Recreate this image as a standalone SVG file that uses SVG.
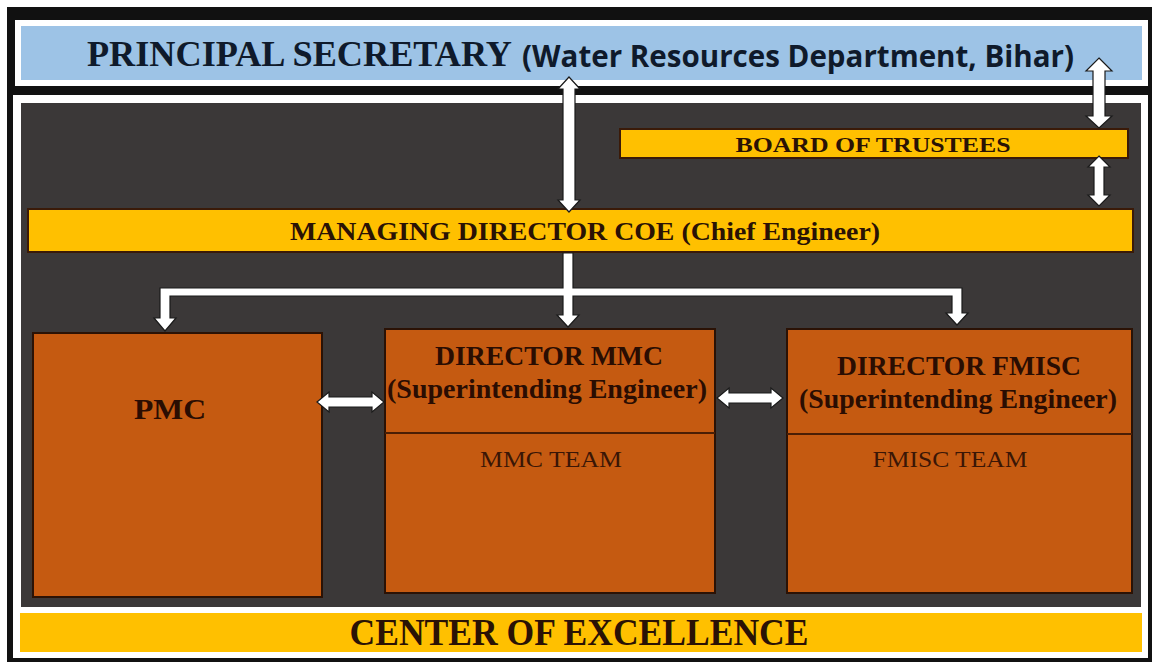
<svg xmlns="http://www.w3.org/2000/svg" width="1152" height="662" viewBox="0 0 1152 662">
  <style>
    .serif { font-family: "Liberation Serif", "Times New Roman", serif; }
    .sans { font-family: "Open Sans", "Noto Sans", "Liberation Sans", sans-serif; }
    .bold { font-weight: bold; }
    .bar { fill: #ffc000; stroke: #3a1a08; stroke-width: 2; }
    .box { fill: #c55a11; stroke: #2b1205; stroke-width: 2; }
    .divider { stroke: #4a1e05; stroke-width: 2; }
    .arrow { fill: #ffffff; stroke: #1a1a1a; stroke-width: 1.2; stroke-linejoin: miter; }
    .t-blue { fill: #0f1a2b; }
    .t-bar { fill: #2a1205; }
    .t-box { fill: #2a0d02; }
    .t-team { fill: #3a1606; }
  </style>

  <!-- frame -->
  <rect x="0" y="0" width="1152" height="662" fill="#ffffff"/>
  <rect x="7" y="7" width="1145" height="655" fill="#111111"/>

  <!-- top panel -->
  <g id="principal-secretary">
    <rect x="15" y="20" width="1133" height="66" fill="#ffffff"/>
    <rect x="21" y="26" width="1121" height="54" fill="#9dc3e6"/>
    <text class="serif bold t-blue" x="87" y="66" font-size="35" textLength="425" lengthAdjust="spacingAndGlyphs">PRINCIPAL SECRETARY</text>
    <text class="sans bold t-blue" x="522" y="67" font-size="31" textLength="552" lengthAdjust="spacingAndGlyphs">(Water Resources Department, Bihar)</text>
  </g>

  <!-- lower panel -->
  <g id="coe-panel">
    <rect x="13" y="95" width="1135" height="563" fill="#ffffff"/>
    <rect x="21" y="103" width="1120" height="504" fill="#3b3838"/>
  </g>

  <g id="center-of-excellence">
    <rect x="20" y="613" width="1122" height="39" fill="#ffc000"/>
    <text class="serif bold t-bar" x="579" y="645" font-size="37" text-anchor="middle" textLength="459" lengthAdjust="spacingAndGlyphs">CENTER OF EXCELLENCE</text>
  </g>

  <g id="board-of-trustees">
    <rect class="bar" x="620" y="129" width="508" height="29"/>
    <text class="serif bold t-bar" x="873" y="152" font-size="22" text-anchor="middle" textLength="275" lengthAdjust="spacingAndGlyphs">BOARD OF TRUSTEES</text>
  </g>

  <g id="managing-director">
    <rect class="bar" x="28" y="209" width="1105" height="43"/>
    <text class="serif bold t-bar" x="585" y="240" font-size="26" text-anchor="middle" textLength="590" lengthAdjust="spacingAndGlyphs">MANAGING DIRECTOR COE (Chief Engineer)</text>
  </g>

  <g id="pmc">
    <rect class="box" x="33" y="333" width="289" height="264"/>
    <text class="serif bold t-box" x="170" y="419" font-size="30" text-anchor="middle" textLength="72" lengthAdjust="spacingAndGlyphs">PMC</text>
  </g>

  <g id="director-mmc">
    <rect class="box" x="385" y="329" width="330" height="264"/>
    <line class="divider" x1="385" y1="433" x2="715" y2="433"/>
    <text class="serif bold t-box" x="549" y="365" font-size="27" text-anchor="middle" textLength="228" lengthAdjust="spacingAndGlyphs">DIRECTOR MMC</text>
    <text class="serif bold t-box" x="547" y="398" font-size="27" text-anchor="middle" textLength="320" lengthAdjust="spacingAndGlyphs">(Superintending Engineer)</text>
    <text class="serif t-team" x="551" y="467" font-size="23" text-anchor="middle" textLength="142" lengthAdjust="spacingAndGlyphs">MMC TEAM</text>
  </g>

  <g id="director-fmisc">
    <rect class="box" x="787" y="329" width="345" height="264"/>
    <line class="divider" x1="787" y1="434" x2="1132" y2="434"/>
    <text class="serif bold t-box" x="959" y="375" font-size="27" text-anchor="middle" textLength="244" lengthAdjust="spacingAndGlyphs">DIRECTOR FMISC</text>
    <text class="serif bold t-box" x="958" y="408" font-size="27" text-anchor="middle" textLength="318" lengthAdjust="spacingAndGlyphs">(Superintending Engineer)</text>
    <text class="serif t-team" x="950" y="467" font-size="23" text-anchor="middle" textLength="155" lengthAdjust="spacingAndGlyphs">FMISC TEAM</text>
  </g>

  <!-- connectors -->
  <g id="connectors">
    <!-- Principal Secretary <-> Managing Director -->
    <polygon class="arrow" points="569,77 580,89 575,89 575,200 580,200 569,212 558,200 563,200 563,89 558,89"/>
    <!-- Principal Secretary <-> Board of Trustees -->
    <polygon class="arrow" points="1099,58 1112,71 1105,71 1105,116 1112,116 1099,128 1086,116 1093,116 1093,71 1086,71"/>
    <!-- Board of Trustees <-> Managing Director -->
    <polygon class="arrow" points="1099,156 1110,167 1104,167 1104,195 1110,195 1099,206 1088,195 1094,195 1094,167 1088,167"/>
    <!-- Managing Director to PMC, MMC and FMISC -->
    <polygon class="arrow" points="563,253 573,253 573,288 962,288 962,313 968,313 957,325 946,313 952,313 952,296 573,296 573,315 579,315 568,327 557,315 563,315 563,296 170,296 170,318 176,318 165,331 154,318 160,318 160,288 563,288"/>
    <!-- PMC <-> Director MMC -->
    <polygon class="arrow" points="317,402 329,392 329,397 372,397 372,392 384,402 372,412 372,407 329,407 329,412"/>
    <!-- Director MMC <-> Director FMISC -->
    <polygon class="arrow" points="717,398 729,388 729,393 771,393 771,388 783,398 771,408 771,403 729,403 729,408"/>
  </g>
</svg>
